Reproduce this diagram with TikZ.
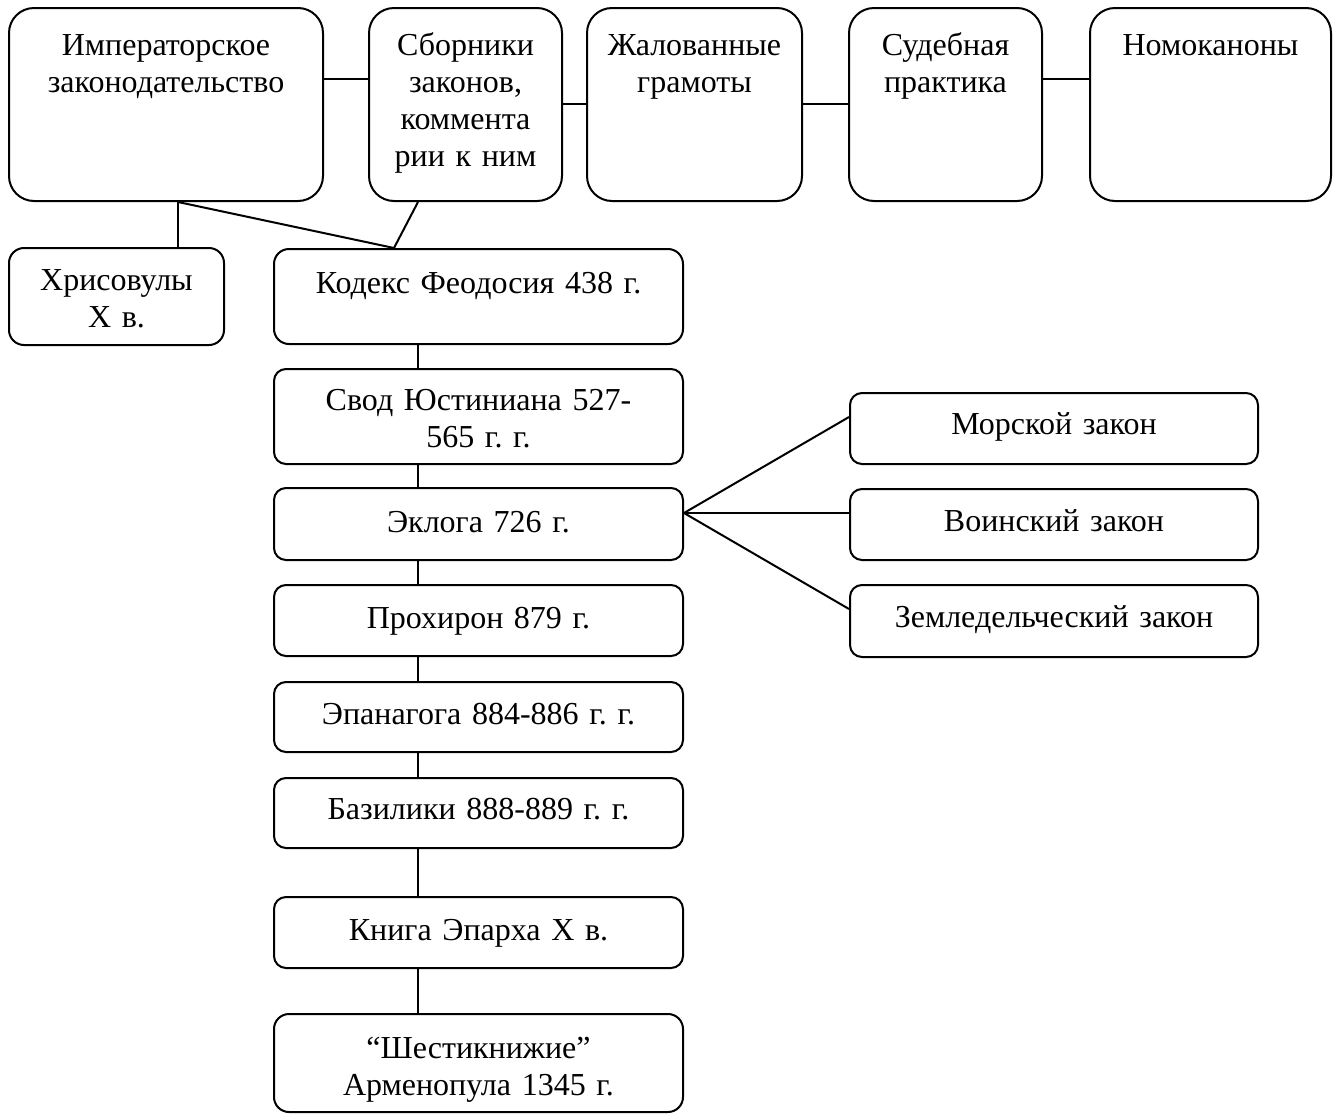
\documentclass[tikz,border=0pt]{standalone}
\usepackage{fontspec}
\setmainfont{Liberation Serif}
\frenchspacing
\begin{document}
\begin{tikzpicture}[x=1pt,y=-1pt,
  box/.style={draw, line width=2pt, rounded corners=12pt, inner sep=0pt},
  bigbox/.style={box, rounded corners=25pt, minimum height=193pt},
  wide/.style={box, minimum width=409pt},
  txt/.style={anchor=base, inner sep=0pt, align=center, font=\fontsize{32}{37}\selectfont\frenchspacing},
  link/.style={line width=2pt}]
\useasboundingbox (0,0) rectangle (1339,1117);

% top row
\node[bigbox, minimum width=314pt] (imp) at (166,104.5) {};
\node[bigbox, minimum width=193pt] (sb) at (465.5,104.5) {};
\node[bigbox, minimum width=215pt] (zh) at (694.5,104.5) {};
\node[bigbox, minimum width=193pt] (sud) at (945.5,104.5) {};
\node[bigbox, minimum width=241pt] (nom) at (1210.5,104.5) {};

\node[txt, text width=314pt] (timp) at (166,55) {Императорское\\законодательство};
\node[txt, text width=193pt] (tsb) at (465.5,55) {Сборники\\законов,\\коммента\\рии к ним};
\node[txt, text width=215pt] (tzh) at (694.5,55) {Жалованные\\грамоты};
\node[txt, text width=193pt] (tsud) at (945.5,55) {Судебная\\практика};
\node[txt, text width=241pt] (tnom) at (1210.5,55) {Номоканоны};

% left small box
\node[box, rounded corners=15pt, minimum width=215pt, minimum height=97pt] (xr) at (116.5,296.5) {};
\node[txt, text width=215pt] (txr) at (116.5,290) {Хрисовулы\\Х в.};

% central column
\node[wide, rounded corners=15pt, minimum height=95pt] (kod) at (478.5,296.5) {};
\node[wide, minimum height=95pt] (svod) at (478.5,416.5) {};
\node[wide, minimum height=72pt] (ekl) at (478.5,524) {};
\node[wide, minimum height=71pt] (pro) at (478.5,620.5) {};
\node[wide, minimum height=70pt] (epa) at (478.5,717) {};
\node[wide, minimum height=70pt] (baz) at (478.5,813) {};
\node[wide, minimum height=71pt] (kni) at (478.5,932.5) {};
\node[wide, rounded corners=15pt, minimum height=98pt] (shes) at (478.5,1063) {};

\node[txt, text width=409pt] (tkod) at (478.5,293) {Кодекс Феодосия 438 г.};
\node[txt, text width=409pt] (tsvod) at (478.5,410) {Свод Юстиниана 527-\\565 г. г.};
\node[txt, text width=409pt] (tekl) at (478.5,532) {Эклога 726 г.};
\node[txt, text width=409pt] (tpro) at (478.5,628) {Прохирон 879 г.};
\node[txt, text width=409pt] (tepa) at (478.5,724) {Эпанагога 884-886 г. г.};
\node[txt, text width=409pt] (tbaz) at (478.5,819) {Базилики 888-889 г. г.};
\node[txt, text width=409pt] (tkni) at (478.5,940) {Книга Эпарха Х в.};
\node[txt, text width=409pt] (tshes) at (478.5,1058) {“Шестикнижие”\\Арменопула 1345 г.};

% right column
\node[box, minimum width=408pt, minimum height=71pt] (mor) at (1054,428.5) {};
\node[box, minimum width=408pt, minimum height=71pt] (voi) at (1054,524.5) {};
\node[box, minimum width=408pt, minimum height=72pt] (zem) at (1054,621) {};
\node[txt, text width=408pt] (tmor) at (1054,434) {Морской закон};
\node[txt, text width=408pt] (tvoi) at (1054,531) {Воинский закон};
\node[txt, text width=408pt] (tzem) at (1054,627) {Земледельческий закон};

% connectors top row
\draw[link] ([yshift=-72pt]imp.north east) -- ([yshift=-72pt]sb.north west);
\draw[link] ([yshift=-97pt]sb.north east) -- ([yshift=-97pt]zh.north west);
\draw[link] ([yshift=-97pt]zh.north east) -- ([yshift=-97pt]sud.north west);
\draw[link] ([yshift=-72pt]sud.north east) -- ([yshift=-72pt]nom.north west);

% connectors below top row
\coordinate (impfoot) at ([xshift=12pt]imp.south);
\coordinate (kodhead) at ([xshift=-84.5pt]kod.north);
\draw[link] (impfoot) -- (impfoot |- xr.north);
\draw[link] (impfoot) -- (kodhead);
\draw[link] ([xshift=-47.5pt]sb.south) -- (kodhead);

% central chain
\foreach \a/\b in {kod/svod, svod/ekl, ekl/pro, pro/epa, epa/baz, baz/kni, kni/shes}
  \draw[link] ([xshift=-60.5pt]\a.south) -- ([xshift=-60.5pt]\b.north);

% fan to the right
\coordinate (eklout) at ([yshift=11pt]ekl.east);
\draw[link] (eklout) -- ([yshift=11.5pt]mor.west);
\draw[link] (eklout) -- ([yshift=11.5pt]voi.west);
\draw[link] (eklout) -- ([yshift=12pt]zem.west);
\end{tikzpicture}
\end{document}
